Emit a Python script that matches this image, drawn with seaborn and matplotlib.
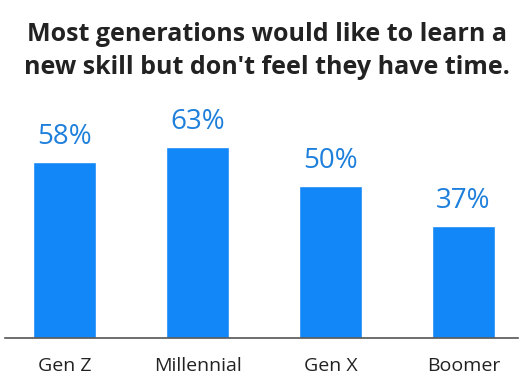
import pandas as pd
import seaborn as sns
import matplotlib.pyplot as plt

generations = ['Gen Z', 'Millennial', 'Gen X', 'Boomer']
share = [58, 63, 50, 37]

df = pd.DataFrame({'generation': generations, 'share': share})

sns.set_style('white')
plt.rcParams['font.family'] = ['Open Sans', 'DejaVu Sans']

fig = plt.figure(figsize=(5.29, 3.89), dpi=100)
ax = fig.add_axes([0.0095, 0.131, 0.9695, 0.586])

sns.barplot(data=df, x='generation', y='share', color='#1287f7', saturation=1,
            width=0.475, ax=ax)

for i, v in enumerate(share):
    ax.text(i, v + 3.5, f'{v}%', ha='center', va='bottom', fontsize=20,
            color='#1f80dc')

ax.set_xlim(-0.45, 3.41)
ax.set_ylim(0, 75)
ax.set_xlabel('')
ax.set_ylabel('')
ax.set_yticks([])
ax.tick_params(axis='x', length=0, pad=14, labelsize=14, labelcolor='#222222')
for s in ['top', 'left', 'right']:
    ax.spines[s].set_visible(False)
ax.spines['bottom'].set_color('#555555')
ax.spines['bottom'].set_linewidth(1.2)

fig.text(0.505, 0.943, 'Most generations would like to learn a\nnew skill but don\'t feel they have time.',
         ha='center', va='top', fontsize=18, fontweight='bold', color='#222222',
         linespacing=1.42)

fig.savefig('out.png', dpi=100, facecolor='white')
